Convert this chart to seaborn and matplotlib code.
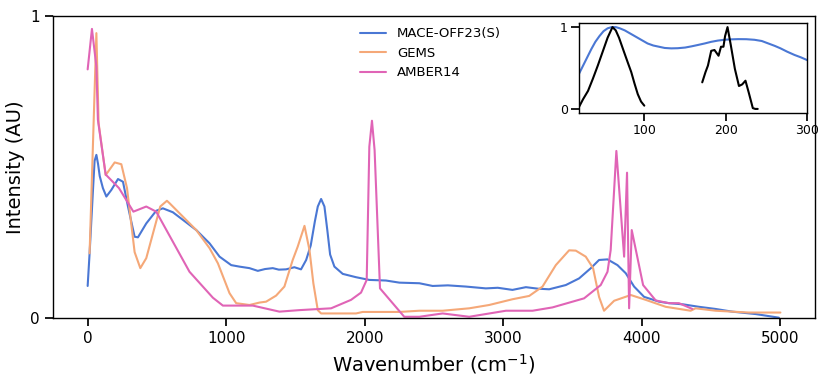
import matplotlib
matplotlib.use("Agg")
import matplotlib.pyplot as plt
import pandas as pd
import seaborn as sns

# main spectra (wavenumber in cm^-1, normalised intensity)
mace_wn = [0, 14, 38, 50, 63, 75, 87, 110, 135, 171, 219, 255, 291, 339, 363, 423, 495, 543,
           615, 687, 784, 880, 952, 1036, 1096, 1168, 1228, 1280, 1336, 1380, 1432, 1492, 1540,
           1577, 1610, 1640, 1661, 1685, 1709, 1730, 1750, 1781, 1841, 1937, 2033, 2153, 2250,
           2394, 2490, 2600, 2730, 2874, 2960, 3066, 3163, 3250, 3331, 3451, 3547, 3632, 3691,
           3752, 3824, 3884, 3944, 4016, 4124, 4196, 4300, 4412, 4530, 4652, 4821, 4989]
mace_int = [0.106, 0.214, 0.42, 0.52, 0.54, 0.51, 0.47, 0.43, 0.402, 0.424, 0.46, 0.451, 0.369,
            0.269, 0.267, 0.313, 0.355, 0.363, 0.35, 0.325, 0.291, 0.247, 0.203, 0.175, 0.17,
            0.165, 0.156, 0.162, 0.165, 0.160, 0.161, 0.168, 0.161, 0.192, 0.24, 0.32, 0.369,
            0.394, 0.369, 0.29, 0.21, 0.17, 0.146, 0.135, 0.126, 0.124, 0.117, 0.115, 0.106,
            0.108, 0.104, 0.098, 0.10, 0.093, 0.102, 0.097, 0.095, 0.109, 0.131, 0.165, 0.192,
            0.194, 0.175, 0.148, 0.104, 0.07, 0.054, 0.049, 0.045, 0.037, 0.03, 0.021, 0.013, 0.001]

gems_wn = [14, 63, 79, 130, 195, 243, 284, 339, 380, 423, 524, 572, 591, 784, 880, 940, 1024,
           1072, 1168, 1240, 1288, 1360, 1420, 1480, 1516, 1565, 1601, 1629, 1661, 1685, 1937,
           1985, 2250, 2394, 2562, 2754, 2898, 3066, 3187, 3283, 3379, 3475, 3523, 3595, 3648,
           3691, 3727, 3800, 3920, 4028, 4172, 4352, 4388, 4533, 4773, 5000]
gems_int = [0.214, 0.943, 0.645, 0.473, 0.515, 0.509, 0.43, 0.218, 0.165, 0.198, 0.369, 0.388,
            0.38, 0.291, 0.231, 0.181, 0.082, 0.049, 0.043, 0.051, 0.054, 0.074, 0.104, 0.192,
            0.236, 0.305, 0.225, 0.115, 0.026, 0.015, 0.015, 0.02, 0.02, 0.024, 0.024, 0.032,
            0.043, 0.062, 0.073, 0.104, 0.175, 0.224, 0.223, 0.203, 0.165, 0.07, 0.024, 0.057,
            0.076, 0.06, 0.037, 0.024, 0.032, 0.024, 0.018, 0.018]

amber_wn = [0, 31, 63, 74, 130, 226, 330, 423, 495, 735, 904, 976, 1192, 1384, 1528, 1757, 1901,
            1973, 2014, 2033, 2052, 2071, 2110, 2285, 2394, 2562, 2754, 3019, 3211, 3355, 3583,
            3703, 3752, 3775, 3816, 3872, 3893, 3908, 3927, 4009, 4100, 4196, 4268, 4364]
amber_int = [0.823, 0.957, 0.832, 0.656, 0.475, 0.43, 0.352, 0.369, 0.352, 0.153, 0.067, 0.041,
             0.041, 0.021, 0.026, 0.032, 0.06, 0.084, 0.126, 0.567, 0.653, 0.556, 0.098, 0.004,
             0.004, 0.015, 0.004, 0.024, 0.024, 0.035, 0.065, 0.109, 0.153, 0.225, 0.553, 0.203,
             0.481, 0.032, 0.291, 0.109, 0.058, 0.049, 0.049, 0.03]

# inset: low-frequency region
inset_mace_wn = [20, 25, 30, 35, 40, 45, 50, 55, 60, 65, 70, 76, 83, 90, 97, 104, 111, 118, 125,
                 133, 141, 150, 158, 165, 174, 182, 190, 198, 206, 215, 225, 235, 244, 252, 260,
                 267, 275, 284, 292, 300]
inset_mace_int = [0.43, 0.53, 0.63, 0.73, 0.82, 0.89, 0.95, 0.985, 1.0, 1.0, 0.985, 0.96, 0.92,
                  0.88, 0.84, 0.80, 0.775, 0.76, 0.745, 0.74, 0.742, 0.75, 0.765, 0.78, 0.80,
                  0.82, 0.835, 0.845, 0.85, 0.853, 0.852, 0.845, 0.83, 0.80, 0.77, 0.74, 0.70,
                  0.66, 0.63, 0.595]
exp_lo_wn = [20, 25, 31, 37, 43, 49, 55, 61, 65, 69, 75, 80, 84, 88, 92, 96, 100]
exp_lo_int = [0.025, 0.12, 0.22, 0.37, 0.53, 0.70, 0.87, 1.0, 0.96, 0.87, 0.70, 0.56, 0.45,
              0.31, 0.18, 0.09, 0.04]
exp_hi_wn = [171, 175, 178, 182, 186, 191, 194, 197, 199, 202, 206, 211, 216, 220, 224, 228,
             233, 236, 239]
exp_hi_int = [0.325, 0.45, 0.53, 0.71, 0.72, 0.65, 0.76, 0.76, 0.89, 1.0, 0.78, 0.49, 0.28,
              0.30, 0.345, 0.2, 0.01, 0.0, 0.0]

COLORS = {"MACE-OFF23(S)": "#4a77d4", "GEMS": "#f5a878", "AMBER14": "#e064b6"}

sns.set_theme(style="ticks", rc={
    "axes.edgecolor": "black",
    "xtick.color": "black",
    "ytick.color": "black",
    "text.color": "black",
    "axes.labelcolor": "black",
    "axes.linewidth": 1.0,
})
plt.rcParams["font.family"] = ["DejaVu Sans"]

spectra = pd.concat([
    pd.DataFrame({"wn": mace_wn, "intensity": mace_int, "model": "MACE-OFF23(S)"}),
    pd.DataFrame({"wn": gems_wn, "intensity": gems_int, "model": "GEMS"}),
    pd.DataFrame({"wn": amber_wn, "intensity": amber_int, "model": "AMBER14"}),
])

fig = plt.figure(figsize=(8.31, 3.79), dpi=100)
ax = fig.add_axes([0.0638, 0.161, 0.917, 0.797])

sns.lineplot(data=spectra, x="wn", y="intensity", hue="model", palette=COLORS,
             estimator=None, sort=False, linewidth=1.5, ax=ax)
ax.set_xlim(-250, 5250)
ax.set_ylim(0, 1)
ax.set_xticks([0, 1000, 2000, 3000, 4000, 5000])
ax.set_yticks([0, 1])
ax.tick_params(labelsize=11)
ax.set_xlabel(r"Wavenumber (cm$^{-1}$)", fontsize=14)
ax.set_ylabel("Intensity (AU)", fontsize=14)
ax.legend(title=None, frameon=False, fontsize=9.5, loc="upper left",
          bbox_to_anchor=(0.396, 0.98), borderaxespad=0)

ins = fig.add_axes([0.6968, 0.7018, 0.2749, 0.2375])
sns.lineplot(x=inset_mace_wn, y=inset_mace_int, color=COLORS["MACE-OFF23(S)"],
             linewidth=1.5, ax=ins)
sns.lineplot(x=exp_lo_wn, y=exp_lo_int, color="black", linewidth=1.5, ax=ins)
sns.lineplot(x=exp_hi_wn, y=exp_hi_int, color="black", linewidth=1.5, ax=ins)
ins.set_xlim(20, 300)
ins.set_ylim(-0.05, 1.05)
ins.set_xticks([100, 200, 300])
ins.set_yticks([0, 1])
ins.tick_params(labelsize=9, pad=2)

fig.savefig("out.png", dpi=100)
